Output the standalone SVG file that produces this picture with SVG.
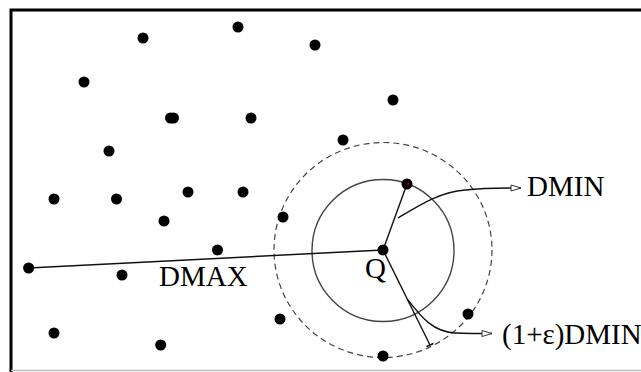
<svg xmlns="http://www.w3.org/2000/svg" width="641" height="372" viewBox="0 0 641 372">
<style>
.pt{fill:#000}
.ln{stroke:#111;stroke-width:1.4;fill:none}
.lbl{font-family:"Liberation Serif","Times New Roman",serif;font-size:29px;fill:#000}
</style>
<defs>
<marker id="open" viewBox="0 0 12 8" refX="11" refY="4" markerWidth="12" markerHeight="8" markerUnits="userSpaceOnUse" orient="auto">
<path d="M1,1 L11,4 L1,7 Z" fill="#fff" stroke="#333" stroke-width="1"/>
</marker>
</defs>
<rect width="641" height="372" fill="#fff"/>
<path d="M11,372 V10 H641" fill="none" stroke="#000" stroke-width="3"/>
<line x1="11" y1="370.5" x2="641" y2="370.5" stroke="#bbb" stroke-width="1.5"/>

<g id="circles">
<circle cx="383" cy="250.5" r="71" fill="none" stroke="#444" stroke-width="1.4"/>
<ellipse cx="383" cy="250" rx="109" ry="107.5" fill="none" stroke="#444" stroke-width="1.2" stroke-dasharray="6,4"/>
</g>

<g id="connectors">
<line class="ln" x1="28.6" y1="268" x2="383" y2="250"/>
<line class="ln" x1="383" y1="250" x2="407" y2="184"/>
<line class="ln" x1="383" y1="250" x2="430" y2="345"/>
<line class="ln" x1="426.5" y1="346.5" x2="433.5" y2="343.5"/>
<path class="ln" d="M398,218 C420,205 440,192 465,190 C480,188.5 500,188 521,188" marker-end="url(#open)"/>
<path class="ln" d="M408,300 C420,315 432,332 455,333 C470,333.5 480,333.5 492,333.5" marker-end="url(#open)"/>
</g>

<g id="points">
<circle class="pt" cx="143" cy="38" r="5.5"/>
<circle class="pt" cx="238" cy="27" r="5.5"/>
<circle class="pt" cx="315" cy="45" r="5.5"/>
<circle class="pt" cx="84" cy="82" r="5.5"/>
<circle class="pt" cx="170.5" cy="118" r="5.5"/>
<circle class="pt" cx="173.5" cy="118" r="5.5"/>
<circle class="pt" cx="251" cy="118" r="5.5"/>
<circle class="pt" cx="393" cy="100" r="5.5"/>
<circle class="pt" cx="109" cy="151" r="5.5"/>
<circle class="pt" cx="343" cy="140" r="5.5"/>
<circle class="pt" cx="54" cy="199" r="5.5"/>
<circle class="pt" cx="116.5" cy="199" r="5.5"/>
<circle class="pt" cx="188" cy="192" r="5.5"/>
<circle class="pt" cx="243" cy="192" r="5.5"/>
<circle class="pt" cx="164" cy="221" r="5.5"/>
<circle class="pt" cx="283" cy="217" r="5.5"/>
<circle class="pt" cx="217.5" cy="250" r="5.5"/>
<circle class="pt" cx="28.6" cy="268" r="5.5"/>
<circle class="pt" cx="122" cy="275" r="5.5"/>
<circle class="pt" cx="280" cy="319" r="5.5"/>
<circle class="pt" cx="468" cy="314" r="5.5"/>
<circle class="pt" cx="54" cy="333" r="5.5"/>
<circle class="pt" cx="160.7" cy="345" r="5.5"/>
<circle class="pt" cx="383" cy="356" r="5.5"/>
</g>

<g id="nearest">
<circle class="pt" cx="407" cy="184" r="5.5"/>
<circle cx="408" cy="184" r="1" fill="#c00"/>
</g>

<g id="Q">
<circle class="pt" cx="383" cy="250" r="5.5"/>
<text class="lbl" x="365" y="278">Q</text>
</g>

<g id="DMAX"><text class="lbl" x="159" y="286">DMAX</text></g>
<g id="DMIN"><text class="lbl" x="527" y="196">DMIN</text></g>
<g id="EPSDMIN"><text class="lbl" x="502" y="344">(1+ε)DMIN</text></g>
</svg>
